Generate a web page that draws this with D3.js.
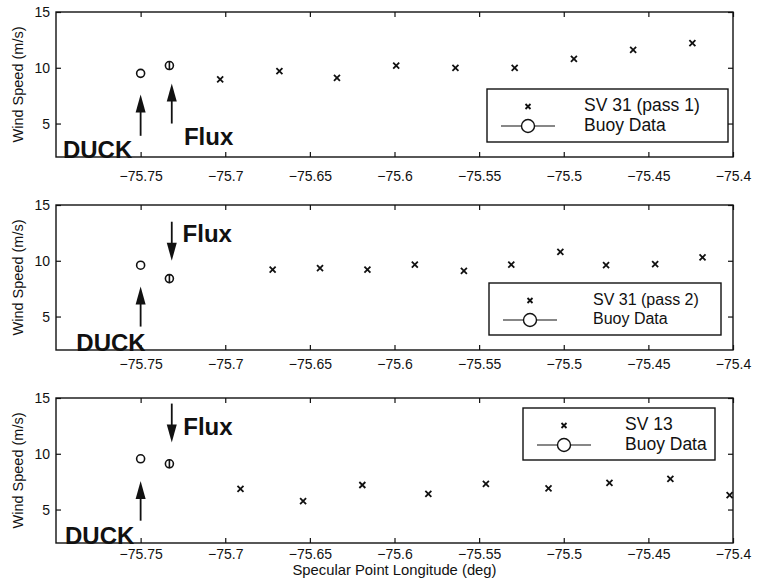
<!DOCTYPE html>
<html lang="en">
<head>
<meta charset="utf-8">
<title>Wind speed vs specular point longitude</title>
<script src="https://d3js.org/d3.v7.min.js"></script>
<style>
body{margin:0;background:#fff;}
text{font-family:"Liberation Sans",Arial,Helvetica,sans-serif;fill:#111;}
</style>
</head>
<body>
<script>
// values
var lonTicks = [-75.75,-75.7,-75.65,-75.6,-75.55,-75.5,-75.45,-75.4];
var speedTicks = [5,10,15];
var seriesNames = ["SV 31 (pass 1)","SV 31 (pass 2)","SV 13"];

var pass1Lon = [-75.703,-75.668,-75.634,-75.599,-75.564,-75.529,-75.494,-75.459,-75.424];
var pass1Speed = [8.95,9.7,9.1,10.2,10.0,10.0,10.8,11.6,12.2];
var pass2Lon = [-75.672,-75.644,-75.616,-75.588,-75.559,-75.531,-75.502,-75.475,-75.446,-75.418];
var pass2Speed = [9.2,9.35,9.2,9.65,9.1,9.65,10.8,9.6,9.7,10.3];
var sv13Lon = [-75.691,-75.654,-75.619,-75.580,-75.546,-75.509,-75.473,-75.437,-75.402];
var sv13Speed = [6.85,5.75,7.2,6.4,7.3,6.9,7.4,7.75,6.3];

var buoyNames = ["DUCK","Flux"];
var buoyLon = [-75.75,-75.733];
var buoySpeed = [[9.5,10.2],[9.6,8.4],[9.55,9.1]];

// arrows [tail, tip] in m/s for each panel
var duckArrow = [[3.9,7.6],[4.1,7.7],[4.0,7.55]];
var fluxArrow = [[5.0,8.6],[13.5,10.0],[14.5,11.0]];
var fluxArrowLon = -75.7316;

// layout
var W = 767, H = 585;
var left = 56, right = 733;
var tops = [12,205,398], ph = 145;
var tickPad = [14,9.5,6];
var duckLabelLon = [-75.7959,-75.788,-75.7947];
var fluxLabel = [[-75.7244,3.07],[-75.7252,11.72],[-75.7248,11.7]];
var legends = [
  {x:487,y:77,w:241,h:53,fs:17.5,tx:97},
  {x:489,y:78,w:232,h:52,fs:16,tx:104},
  {x:523,y:10,w:192,h:52,fs:17.5,tx:102}
];

var series = [
  {lon:pass1Lon, speed:pass1Speed},
  {lon:pass2Lon, speed:pass2Speed},
  {lon:sv13Lon, speed:sv13Speed}
];

var svg = d3.select("body").append("svg")
  .attr("width",W).attr("height",H);

var x = d3.scaleLinear().domain([-75.8,-75.4]).range([left,right]);
var fmt = function(d){ return d3.format("")(d).replace("-","\u2212"); };

function cross(g, cx, cy, s){
  g.append("path")
    .attr("d","M"+(cx-s)+","+(cy-s)+"L"+(cx+s)+","+(cy+s)+"M"+(cx-s)+","+(cy+s)+"L"+(cx+s)+","+(cy-s))
    .attr("stroke","#111").attr("stroke-width",1.8).attr("fill","none");
}

function arrow(g, ax, y0, y1){
  var dir = y1 < y0 ? 1 : -1; // 1 = pointing up
  var headLen = 18, headW = 5;
  g.append("line").attr("x1",ax).attr("x2",ax)
    .attr("y1",y0).attr("y2",y1 + dir*headLen*0.8)
    .attr("stroke","#111").attr("stroke-width",1.8);
  g.append("path")
    .attr("d","M"+ax+","+y1+"L"+(ax-headW)+","+(y1+dir*headLen)+"L"+(ax+headW)+","+(y1+dir*headLen)+"Z")
    .attr("fill","#111");
}

series.forEach(function(s,i){
  var top = tops[i];
  var y = d3.scaleLinear().domain([2,15]).range([top+ph,top]);
  var g = svg.append("g");

  // annotations
  g.append("text").attr("x",x(duckLabelLon[i])).attr("y",y(2)+1)
    .attr("font-size",24).attr("font-weight","bold").text(buoyNames[0]);
  g.append("text").attr("x",x(fluxLabel[i][0])).attr("y",y(fluxLabel[i][1]))
    .attr("font-size",24).attr("font-weight","bold").text(buoyNames[1]);
  arrow(g, x(buoyLon[0]), y(duckArrow[i][0]), y(duckArrow[i][1]));
  arrow(g, x(fluxArrowLon), y(fluxArrow[i][0]), y(fluxArrow[i][1]));

  // axes, ticks inward
  var bottomAx = d3.axisBottom(x).tickValues(lonTicks).tickSizeInner(-5).tickSizeOuter(0)
    .tickPadding(tickPad[i]).tickFormat(fmt);
  var topAx = d3.axisTop(x).tickValues(lonTicks).tickSizeInner(-5).tickSizeOuter(0).tickFormat("");
  var leftAx = d3.axisLeft(y).tickValues(speedTicks).tickSizeInner(-5).tickSizeOuter(0).tickPadding(6);
  var rightAx = d3.axisRight(y).tickValues(speedTicks).tickSizeInner(-5).tickSizeOuter(0).tickFormat("");

  var gb = g.append("g").attr("transform","translate(0,"+(top+ph)+")").call(bottomAx);
  var gt = g.append("g").attr("transform","translate(0,"+top+")").call(topAx);
  var gl = g.append("g").attr("transform","translate("+left+",0)").call(leftAx);
  var gr = g.append("g").attr("transform","translate("+right+",0)").call(rightAx);
  [gb,gt,gl,gr].forEach(function(a){
    a.select(".domain").remove();
    a.selectAll("line").attr("stroke","#111").attr("stroke-width",1.2);
    a.selectAll("text").attr("font-size",14).attr("fill","#111")
      .style("font-family","Liberation Sans, Arial, sans-serif");
  });
  g.append("rect").attr("x",left).attr("y",top).attr("width",right-left).attr("height",ph)
    .attr("fill","none").attr("stroke","#111").attr("stroke-width",1.4);

  g.append("text").attr("transform","translate(23,"+(top+ph/2)+") rotate(-90)")
    .attr("text-anchor","middle").attr("font-size",14.5).text("Wind Speed (m/s)");

  // satellite retrievals
  s.lon.forEach(function(d,j){ cross(g, x(d), y(s.speed[j]), 3); });

  // buoys
  buoyLon.forEach(function(d,j){
    var cx = x(d), cy = y(buoySpeed[i][j]);
    g.append("circle").attr("cx",cx).attr("cy",cy).attr("r",4)
      .attr("fill","none").attr("stroke","#111").attr("stroke-width",1.6);
    if(j==1){
      g.append("line").attr("x1",cx).attr("x2",cx).attr("y1",cy-4.5).attr("y2",cy+4.5)
        .attr("stroke","#111").attr("stroke-width",1.6);
    }
  });

  // legend
  var L = legends[i];
  var lg = g.append("g").attr("transform","translate("+L.x+","+(top+L.y)+")");
  lg.append("rect").attr("width",L.w).attr("height",L.h)
    .attr("fill","#fff").attr("stroke","#111").attr("stroke-width",1.4);
  cross(lg, 41, 17.5, 2.5);
  lg.append("line").attr("x1",14).attr("x2",68).attr("y1",37).attr("y2",37)
    .attr("stroke","#111").attr("stroke-width",1.2);
  lg.append("circle").attr("cx",41).attr("cy",37).attr("r",6.5)
    .attr("fill","#fff").attr("stroke","#111").attr("stroke-width",1.4);
  lg.append("text").attr("x",L.tx).attr("y",22).attr("font-size",L.fs).text(seriesNames[i]);
  lg.append("text").attr("x",L.tx).attr("y",22+L.fs*1.16).attr("font-size",L.fs).text("Buoy Data");
});

svg.append("text").attr("x",(left+right)/2).attr("y",575)
  .attr("text-anchor","middle").attr("font-size",14.8).text("Specular Point Longitude (deg)");
</script>
</body>
</html>
